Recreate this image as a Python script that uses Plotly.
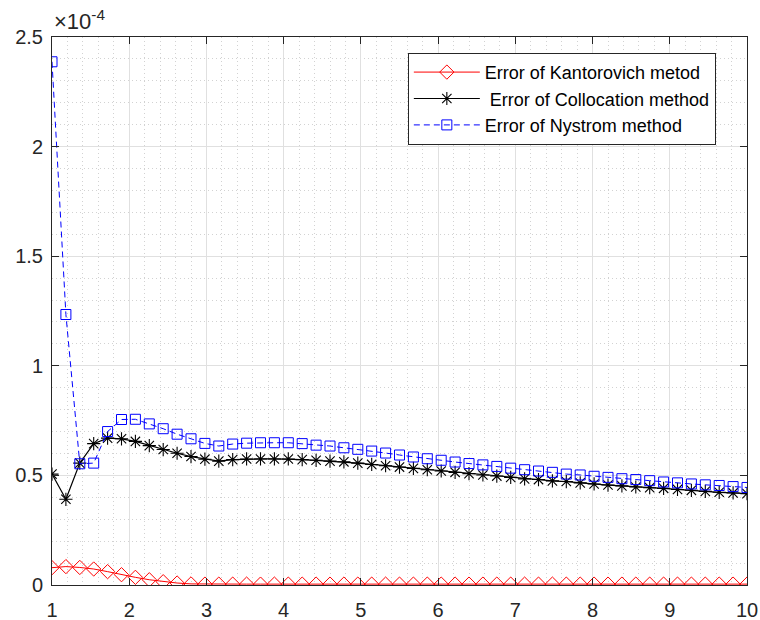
import numpy as np
import plotly.graph_objects as go

# Node positions: x = 1 ... 10 with step 0.18 (51 nodes)
x_nodes = np.round(np.linspace(1, 10, 51), 4)

# Absolute errors, in units of 1e-4
err_kantorovich = [0.079, 0.084, 0.080, 0.073, 0.061, 0.047, 0.035, 0.024, 0.015, 0.009,
                   0.005, 0.004, 0.004, 0.004, 0.004, 0.004, 0.004, 0.004, 0.004, 0.004,
                   0.004, 0.004, 0.004, 0.004, 0.004, 0.004, 0.004, 0.004, 0.004, 0.004,
                   0.004, 0.004, 0.004, 0.004, 0.004, 0.004, 0.004, 0.004, 0.004, 0.004,
                   0.004, 0.004, 0.004, 0.004, 0.004, 0.004, 0.004, 0.004, 0.004, 0.004,
                   0.004]
err_collocation = [0.506, 0.391, 0.556, 0.645, 0.670, 0.667, 0.655, 0.636, 0.618, 0.601,
                   0.586, 0.574, 0.565, 0.572, 0.575, 0.575, 0.575, 0.575, 0.572, 0.569,
                   0.565, 0.562, 0.556, 0.550, 0.544, 0.538, 0.532, 0.526, 0.520, 0.514,
                   0.508, 0.502, 0.497, 0.491, 0.484, 0.481, 0.475, 0.472, 0.466, 0.461,
                   0.456, 0.452, 0.447, 0.444, 0.441, 0.436, 0.432, 0.427, 0.423, 0.420,
                   0.417]
err_nystrom = [2.387, 1.234, 0.553, 0.556, 0.700, 0.755, 0.756, 0.735, 0.713, 0.688,
               0.667, 0.646, 0.634, 0.643, 0.647, 0.649, 0.649, 0.649, 0.645, 0.638,
               0.634, 0.626, 0.619, 0.611, 0.602, 0.593, 0.584, 0.576, 0.569, 0.561,
               0.554, 0.548, 0.541, 0.533, 0.526, 0.520, 0.514, 0.506, 0.502, 0.496,
               0.491, 0.485, 0.481, 0.476, 0.470, 0.466, 0.461, 0.457, 0.454, 0.449,
               0.445]

x_ticks = [1, 2, 3, 4, 5, 6, 7, 8, 9, 10]
y_ticks = [0, 0.5, 1, 1.5, 2, 2.5]
y_tick_text = ["0", "0.5", "1", "1.5", "2", "2.5"]

FONT = "Liberation Sans, Arial, Helvetica, sans-serif"
AX = "#262626"

fig = go.Figure()
fig.add_trace(go.Scatter(
    x=x_nodes, y=err_kantorovich, mode="lines+markers",
    name="Error of Kantorovich metod",
    line=dict(color="#ff0000", width=1),
    marker=dict(symbol="diamond-open", size=11, color="#ff0000", line=dict(width=1, color="#ff0000")),
))
fig.add_trace(go.Scatter(
    x=x_nodes, y=err_collocation, mode="lines+markers",
    name=" Error of Collocation method",
    line=dict(color="#000000", width=1.2),
    marker=dict(symbol="asterisk-open", size=11, color="#000000", line=dict(width=1.1, color="#000000")),
))
fig.add_trace(go.Scatter(
    x=x_nodes, y=err_nystrom, mode="lines+markers",
    name="Error of Nystrom method",
    line=dict(color="#0000ff", width=1, dash="6px,4px"),
    marker=dict(symbol="square-open", size=10, color="#0000ff", line=dict(width=1, color="#0000ff")),
))

axis_common = dict(
    showline=True, linecolor=AX, linewidth=1, mirror="ticks",
    ticks="inside", ticklen=7, tickcolor=AX, tickwidth=1,
    showgrid=True, gridcolor="#e0e0e0", gridwidth=1,
    zeroline=False, automargin=False,
    tickfont=dict(family=FONT, size=20, color=AX),
)

fig.update_xaxes(
    range=[1, 10], tickmode="array", tickvals=x_ticks, ticklabelstandoff=7,
    minor=dict(dtick=0.2, showgrid=True, gridcolor="#d2d2d2", griddash="1px,3px", gridwidth=1, ticks=""),
    **axis_common,
)
fig.update_yaxes(
    range=[0, 2.5], tickmode="array", tickvals=y_ticks, ticktext=y_tick_text, ticklabelstandoff=4,
    minor=dict(dtick=0.1, showgrid=True, gridcolor="#d2d2d2", griddash="1px,3px", gridwidth=1, ticks=""),
    **axis_common,
)

fig.add_annotation(
    xref="paper", yref="paper", x=0, y=1, xanchor="left", yanchor="bottom",
    yshift=1, xshift=0,
    text="×10<sup>-4</sup>", showarrow=False,
    font=dict(family=FONT, size=22, color=AX),
)

fig.update_layout(
    width=760, height=620,
    margin=dict(l=52, r=13, t=37, b=35),
    paper_bgcolor="white", plot_bgcolor="white",
    font=dict(family=FONT, color=AX),
    legend=dict(
        x=0.512, y=0.971, xanchor="left", yanchor="top",
        bgcolor="white", bordercolor=AX, borderwidth=1,
        font=dict(family=FONT, size=18, color="#000000"),
        itemwidth=66,
        tracegroupgap=0,
    ),
    showlegend=True,
)

fig.write_html("out.html")
